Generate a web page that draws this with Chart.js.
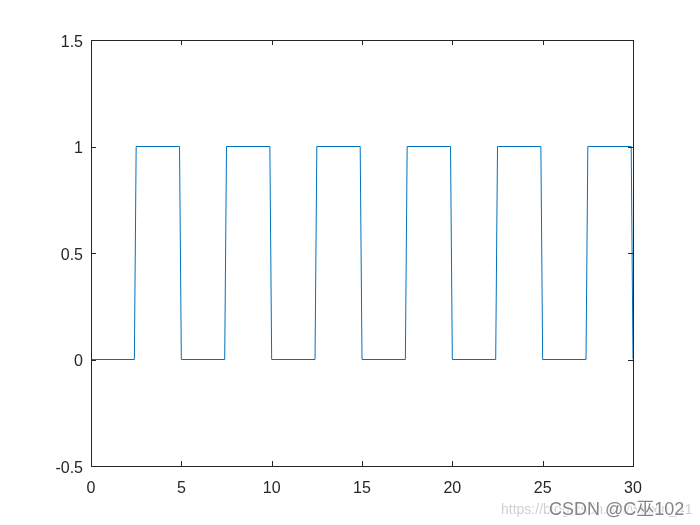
<!DOCTYPE html>
<html>
<head>
<meta charset="utf-8">
<script src="https://cdn.jsdelivr.net/npm/chart.js@4/dist/chart.umd.min.js"></script>
<style>
  html, body { margin: 0; padding: 0; background: #ffffff; }
  #wrap { width: 700px; height: 525px; position: relative; }
</style>
</head>
<body>
<div id="wrap"><canvas id="c" width="700" height="525"></canvas></div>
<script>
// ---- data ----
const xValues = [0, 2.4, 2.5, 4.9, 5.0, 7.4, 7.5, 9.9, 10.0, 12.4, 12.5, 14.9, 15.0,
                 17.4, 17.5, 19.9, 20.0, 22.4, 22.5, 24.9, 25.0, 27.4, 27.5, 29.9, 30.0];
const yValues = [0, 0, 1, 1, 0, 0, 1, 1, 0, 0, 1, 1, 0,
                 0, 1, 1, 0, 0, 1, 1, 0, 0, 1, 1, 0];
const xTicks = [0, 5, 10, 15, 20, 25, 30];
const xTickLabels = ['0', '5', '10', '15', '20', '25', '30'];
const yTicks = [-0.5, 0, 0.5, 1, 1.5];
const yTickLabels = ['-0.5', '0', '0.5', '1', '1.5'];
const watermarkUrl = 'https://blog.csdn.net/weixin_41';
const watermarkText = 'CSDN @C巫102';

const points = xValues.map((x, i) => ({ x: x, y: yValues[i] }));
const axisColor = '#262626';
const fontFamily = 'Liberation Sans, Arial, Helvetica, sans-serif';
const wmFont = '"Liberation Sans", "Noto Sans CJK SC", sans-serif';

const boxPlugin = {
  id: 'matlabBox',
  afterDatasetsDraw(chart) {
    const { ctx, chartArea: a, scales } = chart;
    ctx.save();
    ctx.strokeStyle = axisColor;
    ctx.lineWidth = 1;
    ctx.strokeRect(Math.round(a.left) + 0.5, Math.round(a.top) + 0.5,
                   Math.round(a.right - a.left), Math.round(a.bottom - a.top));
    const tl = 5;
    ctx.beginPath();
    xTicks.forEach(v => {
      const px = Math.round(scales.x.getPixelForValue(v)) + 0.5;
      ctx.moveTo(px, a.bottom); ctx.lineTo(px, a.bottom - tl);
      ctx.moveTo(px, a.top); ctx.lineTo(px, a.top + tl);
    });
    yTicks.forEach(v => {
      const py = Math.round(scales.y.getPixelForValue(v)) + 0.5;
      ctx.moveTo(a.left, py); ctx.lineTo(a.left + tl, py);
      ctx.moveTo(a.right, py); ctx.lineTo(a.right - tl, py);
    });
    ctx.stroke();
    ctx.restore();
  },
  afterDraw(chart) {
    const ctx = chart.ctx;
    ctx.save();
    ctx.textBaseline = 'alphabetic';
    ctx.textAlign = 'left';
    ctx.font = '14px ' + wmFont;
    ctx.fillStyle = 'rgba(200,200,200,0.85)';
    ctx.fillText(watermarkUrl, 501, 514);
    ctx.font = '18px ' + wmFont;
    ctx.lineWidth = 3;
    ctx.strokeStyle = 'rgba(255,255,255,0.7)';
    ctx.strokeText(watermarkText, 549, 515);
    ctx.fillStyle = 'rgba(120,120,120,0.9)';
    ctx.fillText(watermarkText, 549, 515);
    ctx.restore();
  }
};

new Chart(document.getElementById('c'), {
  type: 'line',
  data: {
    datasets: [{
      data: points,
      borderColor: '#0072BD',
      borderWidth: 1,
      pointRadius: 0,
      tension: 0,
      fill: false,
      clip: false
    }]
  },
  options: {
    responsive: false,
    animation: false,
    layout: { padding: { left: 0, top: 40, right: 67, bottom: 0 } },
    plugins: { legend: { display: false }, tooltip: { enabled: false } },
    scales: {
      x: {
        type: 'linear',
        min: 0, max: 30,
        afterBuildTicks: s => { s.ticks = xTicks.map(v => ({ value: v })); },
        afterFit: s => { s.height = 59; },
        grid: { display: false, drawTicks: false },
        border: { display: false },
        ticks: {
          padding: 13,
          color: axisColor,
          font: { size: 16, family: fontFamily },
          maxRotation: 0,
          callback: (v) => xTickLabels[xTicks.indexOf(v)]
        }
      },
      y: {
        type: 'linear',
        min: -0.5, max: 1.5,
        afterBuildTicks: s => { s.ticks = yTicks.map(v => ({ value: v })); },
        afterFit: s => { s.width = 91; },
        grid: { display: false, drawTicks: false },
        border: { display: false },
        ticks: {
          padding: 8,
          color: axisColor,
          font: { size: 16, family: fontFamily, lineHeight: '5px' },
          callback: (v) => ['', yTickLabels[yTicks.indexOf(v)]]
        }
      }
    }
  },
  plugins: [boxPlugin]
});
</script>
</body>
</html>
